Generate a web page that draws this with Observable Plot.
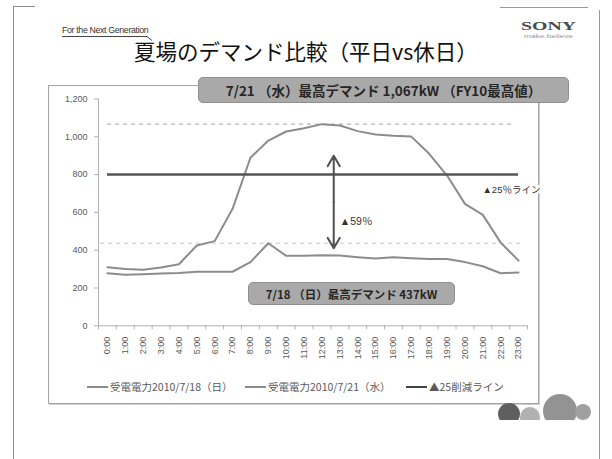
<!DOCTYPE html>
<html>
<head>
<meta charset="utf-8">
<script src="https://cdn.jsdelivr.net/npm/d3@7"></script>
<script src="https://cdn.jsdelivr.net/npm/@observablehq/plot@0.6"></script>
<style>
  html, body { margin: 0; padding: 0; background: #fff; }
  #slide { position: relative; width: 612px; height: 459px; overflow: hidden; background: #fff;
           font-family: "Noto Sans CJK JP", "Noto Sans", sans-serif; }
  .abs { position: absolute; }
  .callout { position: absolute; background: #a9a9a9; border: 1px solid #8f8f8f; border-radius: 5px;
             color: #262626; font-weight: bold; display: flex; align-items: center; justify-content: center;
             white-space: nowrap; box-sizing: border-box; }
  .legend { position: absolute; top: 379px; font-size: 10.5px; line-height: 15px; color: #595959; white-space: nowrap; }
  .legend span.sw { display: inline-block; width: 21px; height: 0; border-top: 2px solid #8c8c8c;
                    vertical-align: middle; margin-right: 2px; position: relative; top: -1px; }
</style>
</head>
<body>
<div id="slide"></div>
<script>
// Hourly received power (kW), weekday 2010/7/21 (Wed) and holiday 2010/7/18 (Sun)
const hourLabels = ["0:00","1:00","2:00","3:00","4:00","5:00","6:00","7:00","8:00","9:00","10:00","11:00",
                    "12:00","13:00","14:00","15:00","16:00","17:00","18:00","19:00","20:00","21:00","22:00","23:00"];
const hours = [0,1,2,3,4,5,6,7,8,9,10,11,12,13,14,15,16,17,18,19,20,21,22,23];
const weekday = [310, 301, 296, 308, 326, 425, 448, 619, 889, 980, 1028, 1045,
                 1067, 1060, 1030, 1012, 1005, 1001, 910, 795, 645, 587, 440, 345];
const holiday = [278, 270, 273, 277, 280, 286, 286, 286, 337, 437, 370, 370,
                 373, 372, 363, 356, 363, 358, 354, 354, 337, 315, 278, 282];
const cutLine = 800;                       // ▲25% reduction line
const yTicks = [0, 200, 400, 600, 800, 1000, 1200];
const seriesNames = ["受電電力2010/7/18（日）", "受電電力2010/7/21（水）", "▲25削減ライン"];

const weekdayPeak = d3.max(weekday);
const holidayPeak = d3.max(holiday);
const dropPct = Math.round((1 - holidayPeak / weekdayPeak) * 100);
const fmt = d3.format(",");

const rowsWeekday = hours.map((h, i) => ({hour: h, kw: weekday[i]}));
const rowsHoliday = hours.map((h, i) => ({hour: h, kw: holiday[i]}));

const slide = document.getElementById("slide");

// slide chrome: outer border, header, chart-area box
slide.insertAdjacentHTML("beforeend", `
  <div class="abs" style="left:13px;top:6px;width:0;height:460px;border-left:1.5px solid #8a8a8a"></div>
  <div class="abs" style="left:13px;top:6px;width:22px;height:0;border-top:1.5px solid #8a8a8a"></div>
  <div class="abs" style="left:500px;top:7px;width:88px;height:0;border-top:1.5px solid #9a9a9a"></div>
  <div class="abs" style="left:599px;top:10px;width:0;height:460px;border-left:1.5px solid #9a9a9a"></div>
  <div class="abs" style="left:62px;top:25px;font:8.8px 'Liberation Sans',sans-serif;color:#333;letter-spacing:-0.35px">For the Next Generation</div>
  <svg class="abs" style="left:60px;top:35px" width="100" height="8">
    <path d="M2 1.5 H87 L92 5.5" fill="none" stroke="#444" stroke-width="1"/>
  </svg>
  <svg class="abs" style="left:515px;top:16px" width="70" height="26">
    <text x="6" y="14" textLength="55" lengthAdjust="spacingAndGlyphs"
          style="font:bold 12px 'Liberation Serif',serif;fill:#4a4a4a">SONY</text>
    <text x="9" y="22" textLength="49" lengthAdjust="spacingAndGlyphs"
          style="font:5.5px 'Liberation Sans',sans-serif;fill:#999">make.believe</text>
  </svg>
  <div class="abs" style="left:0;width:612px;top:36px;text-align:center;font-size:21.5px;color:#111;line-height:30px">夏場のデマンド比較（平日vs休日）</div>
  <div class="abs" style="left:48px;top:85px;width:489px;height:317px;border:1.5px solid #a4a4a4;box-shadow:1px 1px 0 #d0d0d0"></div>
`);

// the chart itself
const chart = Plot.plot({
  width: 612,
  height: 459,
  marginLeft: 98,
  marginRight: 85,
  marginTop: 98.5,
  marginBottom: 133.7,
  x: {type: "linear", domain: [-0.5, 23.5], axis: null},
  y: {type: "linear", domain: [0, 1200], axis: null},
  style: {background: "transparent", fontFamily: "'Liberation Sans', 'Noto Sans CJK JP', sans-serif", overflow: "visible"},
  marks: [
    // axes in spreadsheet style
    Plot.ruleX([-0.5], {y1: 0, y2: 1200, stroke: "#b0b0b0", strokeWidth: 1}),
    Plot.ruleY([0], {x1: -0.5, x2: 23.5, stroke: "#b0b0b0", strokeWidth: 1}),
    Plot.axisY(yTicks, {anchor: "left", label: null, tickSize: 4, tickPadding: 7, tickFormat: fmt,
                        stroke: "#b0b0b0", fill: "#595959", fontSize: 9}),
    Plot.axisX(d3.range(-0.5, 24, 1), {anchor: "bottom", label: null, tickSize: 4, stroke: "#b0b0b0",
                                       fill: "none", tickFormat: () => ""}),
    Plot.axisX(hours, {anchor: "bottom", label: null, tickSize: 0, tickPadding: 11, tickRotate: -90,
                       tickFormat: (d) => hourLabels[d], fill: "#595959", fontSize: 9}),

    // peak reference lines
    Plot.ruleY([weekdayPeak], {x1: 0, x2: 22.7, stroke: "#b4b4b4", strokeWidth: 1.2, strokeDasharray: "4,4"}),
    Plot.ruleY([holidayPeak], {x1: -0.4, x2: 23.1, stroke: "#c4c4c4", strokeWidth: 1, strokeDasharray: "4,4"}),

    // demand curves
    Plot.line(rowsWeekday, {x: "hour", y: "kw", stroke: "#8c8c8c", strokeWidth: 2}),
    Plot.line(rowsHoliday, {x: "hour", y: "kw", stroke: "#8c8c8c", strokeWidth: 2}),

    // ▲25% reduction line
    Plot.ruleY([cutLine], {x1: 0, x2: 23, stroke: "#555", strokeWidth: 2.5}),

    // weekday vs holiday gap
    Plot.arrow([{y1: 655, y2: 900}, {y1: 655, y2: 410}], {
      x1: 12.66, x2: 12.66, y1: "y1", y2: "y2", stroke: "#505050", strokeWidth: 2, headLength: 9
    }),
    Plot.text([`▲${dropPct}％`], {x: 13.0, y: 550, text: (d) => d, textAnchor: "start",
                                  fill: "#333", fontSize: 10.5}),
    Plot.text(["▲25％ライン"], {x: 20.98, y: 720, text: (d) => d, textAnchor: "start",
                                fill: "#333", fontSize: 9.5, stroke: "white", strokeWidth: 5, paintOrder: "stroke"})
  ]
});
chart.style.position = "absolute";
chart.style.left = "0px";
chart.style.top = "0px";
slide.appendChild(chart);

// callouts, legend and corner ornament
slide.insertAdjacentHTML("beforeend", `
  <div class="callout" style="left:198px;top:77px;width:371px;height:26px;font-size:13.5px">7/21 （水）最高デマンド ${fmt(weekdayPeak)}kW （FY10最高値）</div>
  <div class="callout" style="left:248px;top:282px;width:207px;height:23px;font-size:11.5px">7/18 （日）最高デマンド ${fmt(holidayPeak)}kW</div>
  <div class="legend" style="left:87px"><span class="sw"></span>${seriesNames[0]}</div>
  <div class="legend" style="left:245px"><span class="sw"></span>${seriesNames[1]}</div>
  <div class="legend" style="left:406px"><span class="sw" style="border-top-color:#444"></span>${seriesNames[2]}</div>
  <svg class="abs" style="left:490px;top:390px" width="110" height="30">
    <circle cx="19" cy="24" r="11" fill="#5f5f5f"/>
    <circle cx="40" cy="27" r="10" fill="#a8a8a8" opacity="0.9"/>
    <circle cx="70" cy="21" r="17" fill="#8a8a8a" opacity="0.92"/>
    <circle cx="93" cy="22" r="8" fill="#a0a0a0"/>
  </svg>
`);
</script>
</body>
</html>
